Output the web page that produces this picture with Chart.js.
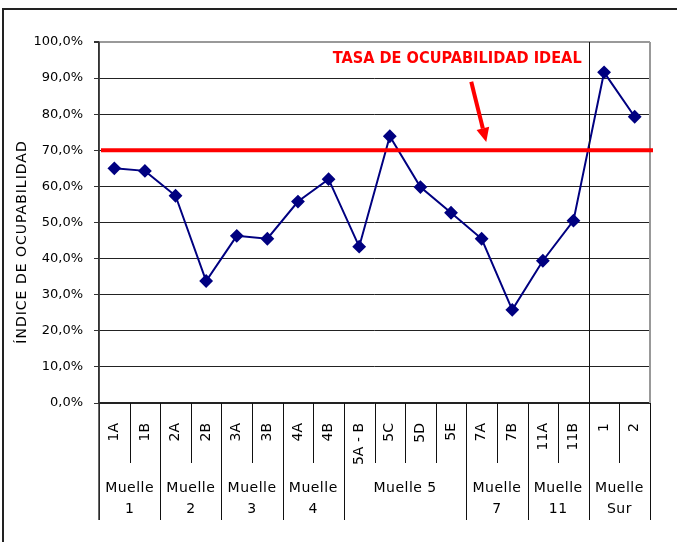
<!DOCTYPE html>
<html>
<head>
<meta charset="utf-8">
<script src="https://cdn.jsdelivr.net/npm/chart.js@4.4.1/dist/chart.umd.min.js"></script>
<style>
  body { margin: 0; background: #fff; }
  canvas { display: block; }
</style>
</head>
<body>
<canvas id="ocupacion" width="677" height="542"></canvas>
<script>
// datos del grafico
const puestos = ["1A", "1B", "2A", "2B", "3A", "3B", "4A", "4B", "5A - B", "5C", "5D", "5E", "7A", "7B", "11A", "11B", "1", "2"];
const ocupacion = [65.0, 64.3, 57.4, 33.8, 46.3, 45.5, 55.8, 62.0, 43.3, 73.9, 59.8, 52.7, 45.5, 25.8, 39.4, 50.5, 91.6, 79.3];
const muelles = [["Muelle", "1"], ["Muelle", "2"], ["Muelle", "3"], ["Muelle", "4"], ["Muelle 5"], ["Muelle", "7"], ["Muelle", "11"], ["Muelle", "Sur"]];
const puestosPorMuelle = [2, 2, 2, 2, 4, 2, 2, 2];
const tasaIdeal = 70;
const textoIdeal = "TASA DE OCUPABILIDAD IDEAL";
const tituloY = "ÍNDICE DE OCUPABILIDAD";

const CANVAS = document.querySelector("#ocupacion");

// separadores, muelles, linea ideal, flecha...
const extras = {
  id: "extras",
  beforeDraw(chart) {
    const ctx = chart.ctx;
    ctx.save();
    ctx.fillStyle = "#fff";
    ctx.fillRect(0, 0, chart.width, chart.height);
    ctx.restore();
  },
  afterDraw(chart) {
    const ctx = chart.ctx;
    const x = chart.scales.x;
    const y = chart.scales.y;
    const area = chart.chartArea;
    const baseTick = area.bottom + 60;
    const baseMuelle = area.bottom + 117;

    ctx.save();
    // marco exterior
    ctx.strokeStyle = "#222";
    ctx.lineWidth = 2;
    ctx.beginPath();
    ctx.moveTo(3, chart.height);
    ctx.lineTo(3, 9);
    ctx.lineTo(chart.width, 9);
    ctx.stroke();

    // borde derecho del area
    ctx.strokeStyle = "#999";
    ctx.lineWidth = 2;
    ctx.beginPath();
    ctx.moveTo(area.right, area.top);
    ctx.lineTo(area.right, area.bottom);
    ctx.stroke();

    // separadores de puestos y muelles
    ctx.strokeStyle = "#111";
    ctx.lineWidth = 1;
    let limites = [0];
    let acc = 0;
    puestosPorMuelle.forEach((n) => { acc += n; limites.push(acc); });
    for (let i = 0; i <= puestos.length; i++) {
      const px = Math.round(x.getPixelForValue(i - 0.5)) + 0.5;
      const esMuelle = limites.includes(i);
      ctx.beginPath();
      ctx.moveTo(px, area.bottom);
      ctx.lineTo(px, esMuelle ? baseMuelle : baseTick);
      ctx.stroke();
    }
    // linea vertical del muelle sur
    const sur = Math.round(x.getPixelForValue(limites[limites.length - 2] - 0.5)) + 0.5;
    ctx.beginPath();
    ctx.moveTo(sur, area.top);
    ctx.lineTo(sur, area.bottom);
    ctx.stroke();

    // nombres de los muelles
    ctx.fillStyle = "#000";
    ctx.font = "14px 'DejaVu Sans'";
    ctx.letterSpacing = "0.5px";
    ctx.textAlign = "center";
    ctx.textBaseline = "middle";
    muelles.forEach((nombre, k) => {
      const cx = (x.getPixelForValue(limites[k] - 0.5) + x.getPixelForValue(limites[k + 1] - 0.5)) / 2;
      nombre.forEach((linea, j) => {
        ctx.fillText(linea, cx, area.bottom + 85 + j * 21);
      });
    });

    // titulo eje y
    ctx.save();
    ctx.translate(22, 242);
    ctx.rotate(-Math.PI / 2);
    ctx.font = "14px 'DejaVu Sans'";
    ctx.letterSpacing = "1px";
    ctx.fillText(tituloY, 0, 0);
    ctx.restore();

    // linea de tasa ideal
    const yIdeal = y.getPixelForValue(tasaIdeal);
    ctx.strokeStyle = "#ff0000";
    ctx.lineWidth = 4;
    ctx.beginPath();
    ctx.moveTo(area.left + 2, yIdeal);
    ctx.lineTo(area.right + 3, yIdeal);
    ctx.stroke();

    // texto
    ctx.save();
    ctx.letterSpacing = "0px";
    ctx.font = "bold 16px 'DejaVu Sans'";
    const w = ctx.measureText(textoIdeal).width;
    ctx.translate(x.getPixelForValue(11.2), y.getPixelForValue(95.3));
    ctx.scale(249 / w, 1);
    ctx.fillStyle = "#ff0000";
    ctx.fillText(textoIdeal, 0, 0);
    ctx.restore();

    // flecha
    const x0 = x.getPixelForValue(11.66), y0 = y.getPixelForValue(89);
    const x1 = x.getPixelForValue(12.15), y1 = y.getPixelForValue(72.3);
    const ang = Math.atan2(y1 - y0, x1 - x0);
    const largo = 14;
    const bx = x1 - largo * Math.cos(ang), by = y1 - largo * Math.sin(ang);
    ctx.strokeStyle = "#ff0000";
    ctx.fillStyle = "#ff0000";
    ctx.lineWidth = 4;
    ctx.beginPath();
    ctx.moveTo(x0, y0);
    ctx.lineTo(bx, by);
    ctx.stroke();
    ctx.beginPath();
    ctx.moveTo(x1, y1);
    ctx.lineTo(bx + 6.5 * Math.sin(ang), by - 6.5 * Math.cos(ang));
    ctx.lineTo(bx - 6.5 * Math.sin(ang), by + 6.5 * Math.cos(ang));
    ctx.closePath();
    ctx.fill();

    // eje y prolongado hasta los muelles
    ctx.strokeStyle = "#333";
    ctx.lineWidth = 1.5;
    ctx.beginPath();
    ctx.moveTo(area.left, area.top);
    ctx.lineTo(area.left, baseMuelle);
    ctx.stroke();
    ctx.restore();
  },
};

let grafico = new Chart(CANVAS, {
  type: "line",
  data: {
    labels: puestos,
    datasets: [
      {
        label: "Ocupación",
        data: ocupacion,
        borderColor: "#000080",
        backgroundColor: "#000080",
        borderWidth: 2,
        pointStyle: "rectRot",
        pointRadius: 5.5,
        pointHoverRadius: 5.5,
        tension: 0,
      },
    ],
  },
  options: {
    responsive: false,
    animation: false,
    layout: {
      padding: { left: 0, top: 42, right: 27, bottom: 22 },
    },
    plugins: {
      legend: { display: false },
      tooltip: { enabled: false },
    },
    scales: {
      x: {
        offset: true,
        grid: { display: false },
        border: { display: true, color: "#222", width: 1.5 },
        ticks: {
          autoSkip: false,
          minRotation: 90,
          maxRotation: 90,
          padding: 12,
          color: "#000",
          font: { family: "'DejaVu Sans'", size: 14 },
        },
        afterFit: (s) => { s.height = 117; },
      },
      y: {
        min: 0,
        max: 100,
        grid: {
          color: (c) => (c.tick && c.tick.value === 100 ? "#999" : "#222"),
          lineWidth: (c) => (c.tick && c.tick.value === 100 ? 2 : 1),
          tickLength: 5,
          tickColor: "#333",
        },
        border: { display: true, color: "#333", width: 1.5 },
        ticks: {
          stepSize: 10,
          padding: 11,
          color: "#000",
          font: { family: "'DejaVu Sans'", size: 13 },
          callback: (v) => v.toFixed(1).replace(".", ",") + "%",
        },
        afterFit: (s) => { s.width = 99; },
      },
    },
  },
  plugins: [extras],
});
</script>
</body>
</html>
